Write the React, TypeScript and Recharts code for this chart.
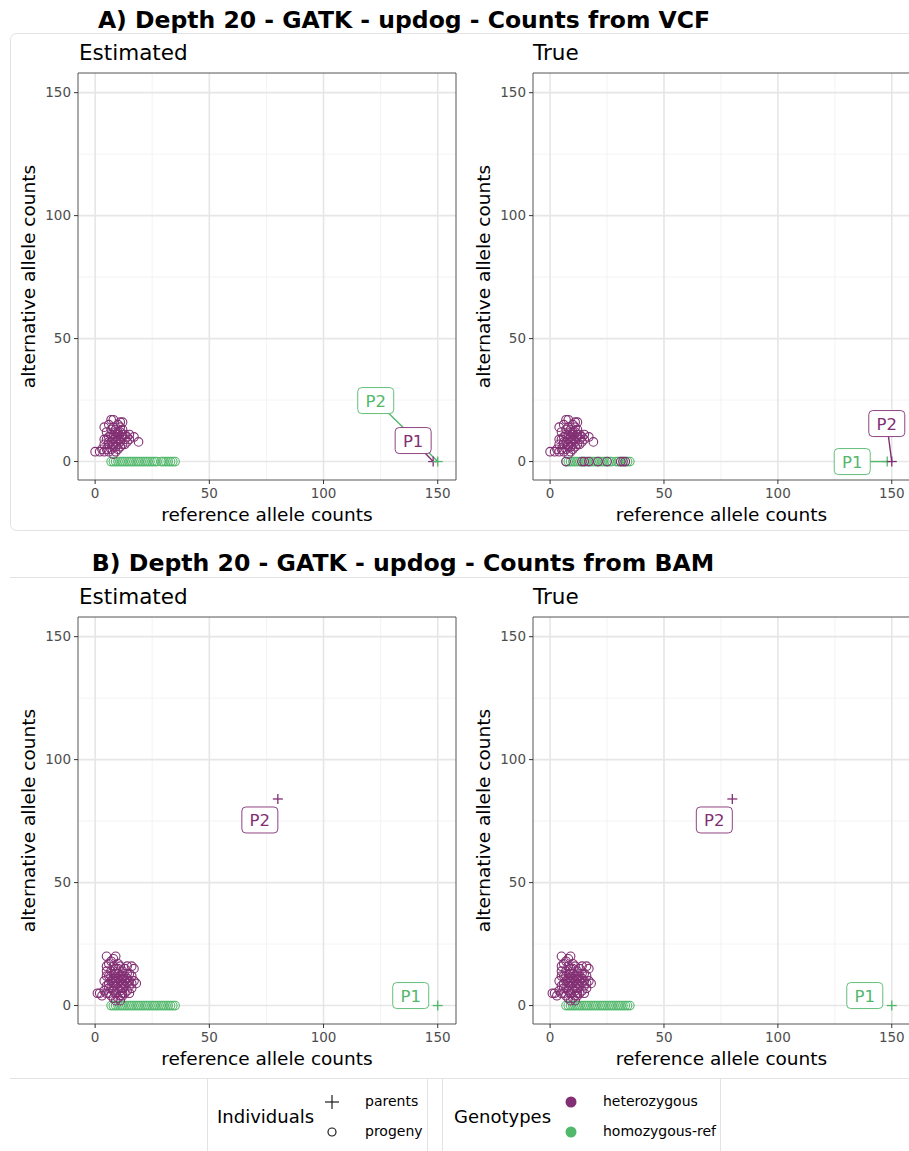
import React from "react";
import { ScatterChart, Scatter, XAxis, YAxis, CartesianGrid, ReferenceArea } from "recharts";

const PURPLE = "#822f73";
const GREEN = "#52b86b";
const FONT = "'DejaVu Sans', Verdana, sans-serif";

const majorTicks = [0, 50, 100, 150];
const minorTicks = [25, 75, 125];
const domain: [number, number] = [-7.5, 158];

// progeny counts [ref, alt] - A) counts from VCF
const hetAEst = [
  [0, 4], [3, 5], [4, 4], [5, 5], [8, 3], [4, 7], [4, 9], [5, 12], [4, 14], [6, 15],
  [7, 17], [8, 17], [8, 14], [9, 13], [10, 15], [11, 16], [12, 16], [12, 13], [11, 12], [10, 11],
  [9, 10], [8, 9], [7, 8], [6, 7], [6, 10], [7, 11], [9, 8], [10, 9], [11, 9], [12, 10],
  [13, 9], [14, 8], [12, 7], [11, 6], [10, 5], [9, 6], [8, 6], [7, 5], [6, 4], [10, 7],
  [13, 11], [14, 10], [17, 10], [19, 8], [11, 8], [12, 11], [8, 7], [7, 13], [9, 12], [10, 12],
  [6, 8], [9, 4], [13, 7], [15, 9], [8, 11], [11, 14], [2, 4], [5, 9], [15, 11],
];
const homA = [
  7, 8, 9, 10, 11, 12, 13, 14, 15, 16, 17, 18, 19, 20, 21, 22, 23, 24, 25, 26, 27, 29, 30, 31, 32, 33, 34, 35,
];
// truly heterozygous progeny sitting on alt = 0
const hetZeroATrue = [7, 14, 15, 17, 21, 25, 31, 32, 33];

// B) counts from BAM
const hetB = [
  [1, 5], [2, 5], [3, 4], [4, 6], [5, 5], [5, 8], [4, 10], [5, 12], [5, 14], [5, 16],
  [5, 20], [6, 17], [7, 18], [8, 19], [9, 20], [8, 16], [7, 14], [6, 12], [6, 9], [7, 7],
  [7, 4], [8, 3], [9, 2], [10, 3], [11, 4], [12, 4], [11, 2], [9, 5], [8, 6], [8, 9],
  [8, 11], [9, 13], [9, 15], [10, 17], [11, 16], [12, 14], [13, 15], [14, 16], [16, 16], [17, 15],
  [15, 13], [13, 12], [12, 11], [11, 10], [10, 9], [9, 8], [10, 7], [11, 6], [12, 7], [13, 8],
  [14, 9], [15, 10], [16, 9], [17, 10], [18, 9], [14, 6], [15, 5], [13, 5], [12, 9], [10, 11],
  [9, 10], [7, 10], [6, 7], [10, 13], [11, 12], [12, 12], [14, 11], [16, 12], [8, 13], [7, 12],
  [9, 11], [11, 8], [13, 10], [15, 8], [14, 13], [10, 15], [8, 8], [6, 5], [12, 5], [16, 7],
];
const homB = [
  7, 8, 9, 10, 11, 12, 13, 14, 15, 16, 17, 18, 19, 20, 21, 22, 23, 24, 25, 26, 27, 28, 29, 30, 31, 32, 33, 34, 35,
];

// parents
const parentNames = ["P1", "P2"];
const parentsA = [[148, 0], [150, 0]];
const parentsB = [[150, 0], [80, 84]];
const genoAEst = ["het", "hom"];
const genoATrue = ["hom", "het"];
const genoB = ["hom", "het"];

// label nudges in px [dx, dy, draw segment]
const nudgeAEst = [[-20, -21, 1], [-62, -61, 1]];
const nudgeATrue = [[-35, 0, 1], [-5, -38, 1]];
const nudgeB = [[-27, -10, 0], [-18, 21, 0]];

const colorOf = (g: string) => (g === "het" ? PURPLE : GREEN);
const toPts = (arr: number[][]) => arr.map(([ref, alt]) => ({ ref, alt }));
const zeroPts = (arr: number[]) => arr.map((ref) => ({ ref, alt: 0 }));

const ring = (color: string) => (p: any) => (
  <circle cx={p.cx} cy={p.cy} r={4.3} fill="none" stroke={color} strokeWidth={1.1} />
);

const plusShape = (p: any) => {
  const c = p.payload.color;
  return (
    <g stroke={c} strokeWidth={1.3}>
      <line x1={p.cx - 5} y1={p.cy} x2={p.cx + 5} y2={p.cy} />
      <line x1={p.cx} y1={p.cy - 5} x2={p.cx} y2={p.cy + 5} />
    </g>
  );
};

const BW = 18, BH = 13;
const linkShape = (p: any) => {
  const { dx, dy, seg, color } = p.payload;
  if (!seg) return <g />;
  // clip the line at the label box edge
  const tx = Math.abs(dx) > BW ? (Math.abs(dx) - BW) / Math.abs(dx) : 0;
  const ty = Math.abs(dy) > BH ? (Math.abs(dy) - BH) / Math.abs(dy) : 0;
  const t = Math.max(tx, ty);
  return (
    <line x1={p.cx} y1={p.cy} x2={p.cx + dx * t} y2={p.cy + dy * t} stroke={color} strokeWidth={1.4} />
  );
};

const labelShape = (p: any) => {
  const { dx, dy, color, name } = p.payload;
  const x = p.cx + dx, y = p.cy + dy;
  return (
    <g>
      <rect x={x - BW} y={y - BH} width={BW * 2} height={BH * 2} rx={4} fill="#fff" stroke={color} strokeWidth={0.9} />
      <text x={x} y={y + 6} textAnchor="middle" fontSize={16.5} fill={color} fontFamily={FONT}>{name}</text>
    </g>
  );
};

type PanelProps = {
  left: number; top: number; right: number;
  het: { ref: number; alt: number }[];
  hom: { ref: number; alt: number }[];
  parents: number[][]; geno: string[]; nudge: number[][];
};

function Panel({ left, top, right, het, hom, parents, geno, nudge }: PanelProps) {
  const par = parents.map(([ref, alt], i) => ({
    ref, alt, name: parentNames[i], color: colorOf(geno[i]),
    dx: nudge[i][0], dy: nudge[i][1], seg: nudge[i][2],
  }));
  const tick = { fill: "#4d4d4d", fontSize: 13.5, fontFamily: FONT };
  return (
    <div style={{ position: "absolute", left, top }}>
      <ScatterChart width={460} height={450} margin={{ top: 13, right, bottom: 0, left: 38 }}>
        <CartesianGrid stroke="#f0f0f0" strokeWidth={0.8}
          verticalValues={minorTicks} horizontalValues={minorTicks} />
        <CartesianGrid stroke="#e6e6e6" strokeWidth={1.6}
          verticalValues={majorTicks} horizontalValues={majorTicks} />
        <XAxis type="number" dataKey="ref" domain={domain} ticks={majorTicks} allowDataOverflow
          height={30} axisLine={false} tickSize={4} tickMargin={4}
          tickLine={{ stroke: "#333" }} tick={tick} />
        <YAxis type="number" dataKey="alt" domain={domain} ticks={majorTicks} allowDataOverflow
          width={40} axisLine={false} tickSize={4} tickMargin={3}
          tickLine={{ stroke: "#333" }} tick={tick} />
        <ReferenceArea x1={domain[0]} x2={domain[1]} y1={domain[0]} y2={domain[1]}
          fill="none" stroke="#555" strokeWidth={1} ifOverflow="visible" />
        <Scatter data={hom} shape={ring(GREEN)} isAnimationActive={false} />
        <Scatter data={het} shape={ring(PURPLE)} isAnimationActive={false} />
        <Scatter data={par} shape={linkShape} isAnimationActive={false} />
        <Scatter data={par} shape={plusShape} isAnimationActive={false} />
        <Scatter data={par} shape={labelShape} isAnimationActive={false} />
      </ScatterChart>
    </div>
  );
}

export default function App() {
  const txt = { fontFamily: FONT, fill: "#000" };
  const hetATrue = [...toPts(hetAEst), ...zeroPts(hetZeroATrue)];
  return (
    <div style={{ position: "absolute", left: 0, top: 0, width: 909, height: 1151, overflow: "hidden", background: "#fff" }}>
      <Panel left={0} top={60} right={4} het={toPts(hetAEst)} hom={zeroPts(homA)}
        parents={parentsA} geno={genoAEst} nudge={nudgeAEst} />
      <Panel left={455} top={60} right={5} het={hetATrue} hom={zeroPts(homA)}
        parents={parentsA} geno={genoATrue} nudge={nudgeATrue} />
      <Panel left={0} top={604} right={4} het={toPts(hetB)} hom={zeroPts(homB)}
        parents={parentsB} geno={genoB} nudge={nudgeB} />
      <Panel left={455} top={604} right={5} het={toPts(hetB)} hom={zeroPts(homB)}
        parents={parentsB} geno={genoB} nudge={nudgeB} />
      <svg width={909} height={1151} style={{ position: "absolute", left: 0, top: 0, pointerEvents: "none" }}>
        {/* frames */}
        <rect x={10.5} y={33.5} width={920} height={497} rx={6} fill="none" stroke="#e3e3e3" />
        <line x1={10} y1={577.5} x2={909} y2={577.5} stroke="#e3e3e3" />
        <line x1={10} y1={1078.5} x2={909} y2={1078.5} stroke="#e3e3e3" />
        {[207.5, 427.5, 442.5, 720.5].map((x) => (
          <line key={x} x1={x} y1={1078} x2={x} y2={1151} stroke="#e3e3e3" />
        ))}
        {/* titles */}
        <text x={404} y={28} textAnchor="middle" fontSize={23.5} fontWeight="bold" {...txt}>
          A) Depth 20 - GATK - updog - Counts from VCF
        </text>
        <text x={403} y={571} textAnchor="middle" fontSize={23.6} fontWeight="bold" {...txt}>
          B) Depth 20 - GATK - updog - Counts from BAM
        </text>
        <text x={79} y={60} fontSize={21.5} {...txt}>Estimated</text>
        <text x={533} y={60} fontSize={21.5} {...txt}>True</text>
        <text x={79} y={604} fontSize={21.5} {...txt}>Estimated</text>
        <text x={533} y={604} fontSize={21.5} {...txt}>True</text>
        {/* axis titles */}
        {[0, 544].map((off) => (
          <g key={off}>
            <text x={267} y={521 + off} textAnchor="middle" fontSize={18.5} {...txt}>reference allele counts</text>
            <text x={721.5} y={521 + off} textAnchor="middle" fontSize={18.5} {...txt}>reference allele counts</text>
            <text transform={`translate(35 ${276.5 + off}) rotate(-90)`} textAnchor="middle" fontSize={18.5} {...txt}>alternative allele counts</text>
            <text transform={`translate(490 ${276.5 + off}) rotate(-90)`} textAnchor="middle" fontSize={18.5} {...txt}>alternative allele counts</text>
          </g>
        ))}
        {/* legend */}
        <text x={217} y={1123} fontSize={18} {...txt}>Individuals</text>
        <g stroke="#1a1a1a" strokeWidth={1.2}>
          <line x1={325} y1={1102} x2={339} y2={1102} />
          <line x1={332} y1={1095} x2={332} y2={1109} />
        </g>
        <circle cx={332} cy={1132} r={4} fill="none" stroke="#1a1a1a" strokeWidth={1.2} />
        <text x={365} y={1106} fontSize={14} {...txt}>parents</text>
        <text x={365} y={1136} fontSize={14} {...txt}>progeny</text>
        <text x={454} y={1123} fontSize={18} {...txt}>Genotypes</text>
        <circle cx={571} cy={1102} r={5.5} fill={PURPLE} />
        <circle cx={571} cy={1132} r={5.5} fill={GREEN} />
        <text x={603} y={1106} fontSize={14} {...txt}>heterozygous</text>
        <text x={603} y={1136} fontSize={14} {...txt}>homozygous-ref</text>
      </svg>
    </div>
  );
}
